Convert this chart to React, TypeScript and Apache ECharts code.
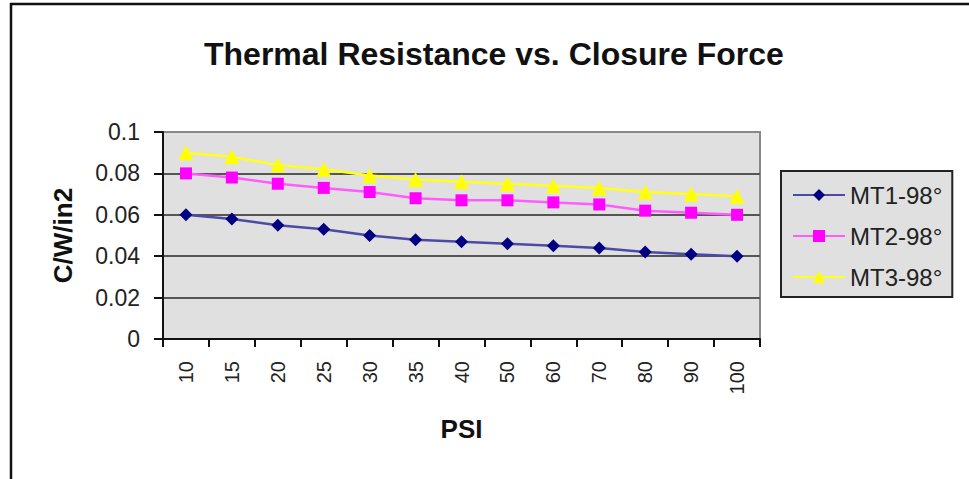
import React, { useEffect, useRef } from "react";
import * as echarts from "echarts";

const categories = ["10", "15", "20", "25", "30", "35", "40", "50", "60", "70", "80", "90", "100"];
const mt1 = [0.06, 0.058, 0.055, 0.053, 0.05, 0.048, 0.047, 0.046, 0.045, 0.044, 0.042, 0.041, 0.04];
const mt2 = [0.08, 0.078, 0.075, 0.073, 0.071, 0.068, 0.067, 0.067, 0.066, 0.065, 0.062, 0.061, 0.06];
const mt3 = [0.09, 0.088, 0.084, 0.082, 0.079, 0.077, 0.076, 0.075, 0.074, 0.073, 0.071, 0.07, 0.069];
const seriesNames = ["MT1-98°", "MT2-98°", "MT3-98°"];
const titleText = "Thermal Resistance vs. Closure Force";
const xName = "PSI";
const yName = "C/W/in2";

const FONT = "'Liberation Sans', Arial, sans-serif";

export default function App() {
  const ref = useRef<HTMLDivElement>(null);
  useEffect(() => {
    if (!ref.current) return;
    const chart = echarts.init(ref.current, undefined, { renderer: "svg" });
    const gridColor = "#555555";
    chart.setOption({
      animation: false,
      backgroundColor: "#ffffff",
      title: {
        text: titleText,
        left: 204,
        top: 38,
        padding: 0,
        textStyle: { fontFamily: FONT, fontSize: 32, fontWeight: "bold", color: "#111" },
      },
      graphic: [
        { type: "line", shape: { x1: 10, y1: 4, x2: 969, y2: 4 }, style: { stroke: "#111", lineWidth: 2.5 } },
        { type: "line", shape: { x1: 11, y1: 3, x2: 11, y2: 479 }, style: { stroke: "#111", lineWidth: 2.5 } },
      ],
      legend: {
        orient: "vertical",
        left: 781,
        top: 171,
        padding: [10, 10, 6, 11],
        itemWidth: 52,
        itemHeight: 15,
        itemGap: 13,
        backgroundColor: "#e0e0e0",
        borderColor: "#222",
        borderWidth: 2,
        textStyle: { fontFamily: FONT, fontSize: 24, color: "#222", lineHeight: 28 },
        data: seriesNames,
      },
      grid: {
        left: 163,
        right: 209,
        top: 132,
        bottom: 140,
        show: true,
        backgroundColor: "#e0e0e0",
        borderColor: "#888",
        borderWidth: 2,
      },
      xAxis: {
        type: "category",
        data: categories,
        boundaryGap: true,
        name: xName,
        nameLocation: "middle",
        nameGap: 77,
        nameTextStyle: { fontFamily: FONT, fontSize: 26, fontWeight: "bold", color: "#111" },
        axisLine: { lineStyle: { color: "#111", width: 2 } },
        axisTick: { show: true, length: 8, alignWithLabel: false, lineStyle: { color: "#111", width: 2 } },
        axisLabel: { rotate: 90, margin: 22, fontFamily: FONT, fontSize: 20, color: "#222", interval: 0 },
        splitLine: { show: false },
      },
      yAxis: {
        type: "value",
        min: 0,
        max: 0.1,
        interval: 0.02,
        name: yName,
        nameLocation: "middle",
        nameGap: 87,
        nameTextStyle: { fontFamily: FONT, fontSize: 26, fontWeight: "bold", color: "#111" },
        axisLine: { show: true, lineStyle: { color: "#111", width: 2 } },
        axisTick: { show: true, length: 9, lineStyle: { color: "#111", width: 2 } },
        axisLabel: { margin: 23, fontFamily: FONT, fontSize: 23, color: "#222" },
        splitLine: {
          show: true,
          lineStyle: { color: [gridColor, gridColor, gridColor, gridColor, gridColor, "#888"], width: 2 },
        },
      },
      series: [
        {
          name: seriesNames[0],
          type: "line",
          data: mt1,
          symbol: "diamond",
          symbolSize: 13,
          itemStyle: { color: "#000080" },
          lineStyle: { color: "#4b4ba6", width: 2.5 },
        },
        {
          name: seriesNames[1],
          type: "line",
          data: mt2,
          symbol: "rect",
          symbolSize: 12,
          itemStyle: { color: "#ff00ff" },
          lineStyle: { color: "#ff5cff", width: 2.5 },
        },
        {
          name: seriesNames[2],
          type: "line",
          data: mt3,
          symbol: "triangle",
          symbolSize: 15,
          itemStyle: { color: "#ffff00" },
          lineStyle: { color: "#ffff1a", width: 2.5 },
        },
      ],
    });
    return () => chart.dispose();
  }, []);
  return (
    <div
      ref={ref}
      style={{ position: "absolute", left: 0, top: 0, width: 969, height: 479, background: "#fff" }}
    />
  );
}
